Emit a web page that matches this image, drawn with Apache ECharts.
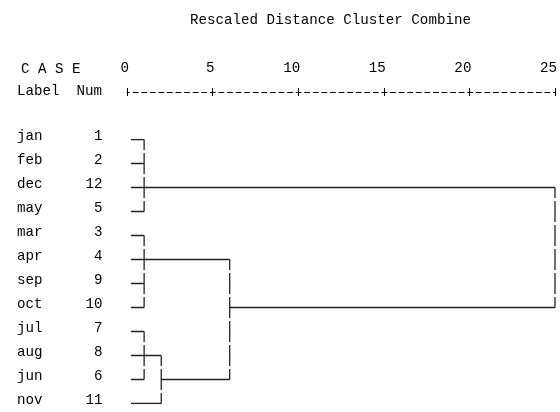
<!DOCTYPE html>
<html>
<head>
<meta charset="utf-8">
<script src="https://cdn.jsdelivr.net/npm/echarts@6/dist/echarts.min.js"></script>
<style>html,body{margin:0;padding:0;background:#fff;}#c{width:560px;height:412px;}</style>
</head>
<body>
<div id="c"></div>
<script>
// ---- data ----
const labels = ['jan','feb','dec','may','mar','apr','sep','oct','jul','aug','jun','nov'];
const caseNums = [1,2,12,5,3,4,9,10,7,8,6,11];
const axisTicks = [0,5,10,15,20,25];
const leafStart = 0.23;
// cluster each case joins first
const leafCluster = [0,0,0,0,1,1,1,1,2,2,2,3];
// merges: rescaled distance, first row, last row, row of outgoing line, parent merge
const mergeDist = [1,1,1,2,6,25];
const mergeTop = [0,4,8,9,5,2];
const mergeBottom = [3,7,10,11,10,7];
const mergeRow = [2,5,9,10,7,null];
const mergeParent = [5,4,3,4,5,null];

const FONT = '"Liberation Mono","DejaVu Sans Mono",monospace';
const FS = 14.2;
const LINE = '#222';

const series = [];
function seg(points, dashed) {
  series.push({
    type: 'line', data: points, showSymbol: false, silent: true, clip: false,
    animation: false, xAxisIndex: 0, yAxisIndex: 0,
    lineStyle: dashed ? {color: LINE, width: 1.3, type: [21, 3], dashOffset: 10.5}
                      : {color: LINE, width: 1.3}
  });
}
labels.forEach((l, i) => seg([[leafStart, i], [mergeDist[leafCluster[i]], i]], false));
mergeDist.forEach((d, m) => {
  if (mergeParent[m] !== null) {
    seg([[d, mergeRow[m]], [mergeDist[mergeParent[m]], mergeRow[m]]], false);
  }
  seg([[d, mergeTop[m]], [d, mergeBottom[m]]], true);
});

const chart = echarts.init(document.getElementById('c'), null, {renderer: 'canvas'});
const xMin = axisTicks[0], xMax = axisTicks[axisTicks.length - 1];
chart.setOption({
  animation: false,
  backgroundColor: '#fff',
  grid: {left: 127, right: 4, top: 139.5, bottom: 8.5, containLabel: false},
  xAxis: [{
    type: 'value', position: 'top', offset: 47.5, min: xMin, max: xMax, interval: 5,
    axisLine: {show: true, lineStyle: {color: '#000', width: 1, type: [5, 3.58], dashOffset: 2.5}},
    axisTick: {show: true, inside: false, length: 4, lineStyle: {color: '#000', width: 1}},
    axisLabel: {show: true, margin: 17, align: 'right', padding: [0, -2, 0, 0],
      fontFamily: FONT, fontSize: FS, color: '#000',
      formatter: v => axisTicks.indexOf(v) >= 0 ? String(v) : ''},
    splitLine: {show: false}
  }, {
    type: 'value', position: 'top', offset: 47.5, min: xMin, max: xMax, interval: 5,
    axisLine: {show: false},
    axisTick: {show: true, inside: true, length: 4, lineStyle: {color: '#000', width: 1}},
    axisLabel: {show: false},
    splitLine: {show: false}
  }],
  yAxis: {
    type: 'category', data: labels, inverse: true, boundaryGap: false,
    axisLine: {show: false}, axisTick: {show: false}, splitLine: {show: false},
    axisLabel: {
      interval: 0, margin: 24.5, padding: [0, 0, 6, 0],
      formatter: (v, i) => '{n|' + v + '}{c|' + caseNums[i] + '}',
      rich: {
        n: {width: 60, align: 'left', fontFamily: FONT, fontSize: FS, color: '#000'},
        c: {width: 25.5, align: 'right', fontFamily: FONT, fontSize: FS, color: '#000'}
      }
    }
  },
  graphic: [
    {type: 'text', x: 190, y: 20, style: {text: 'Rescaled Distance Cluster Combine', font: FS + 'px ' + FONT, fill: '#000', verticalAlign: 'middle'}},
    {type: 'text', x: 21, y: 69, style: {text: 'C A S E', font: FS + 'px ' + FONT, fill: '#000', verticalAlign: 'middle'}},
    {type: 'text', x: 17, y: 91.5, style: {text: 'Label  Num', font: FS + 'px ' + FONT, fill: '#000', verticalAlign: 'middle'}}
  ],
  series: series
});
</script>
</body>
</html>
